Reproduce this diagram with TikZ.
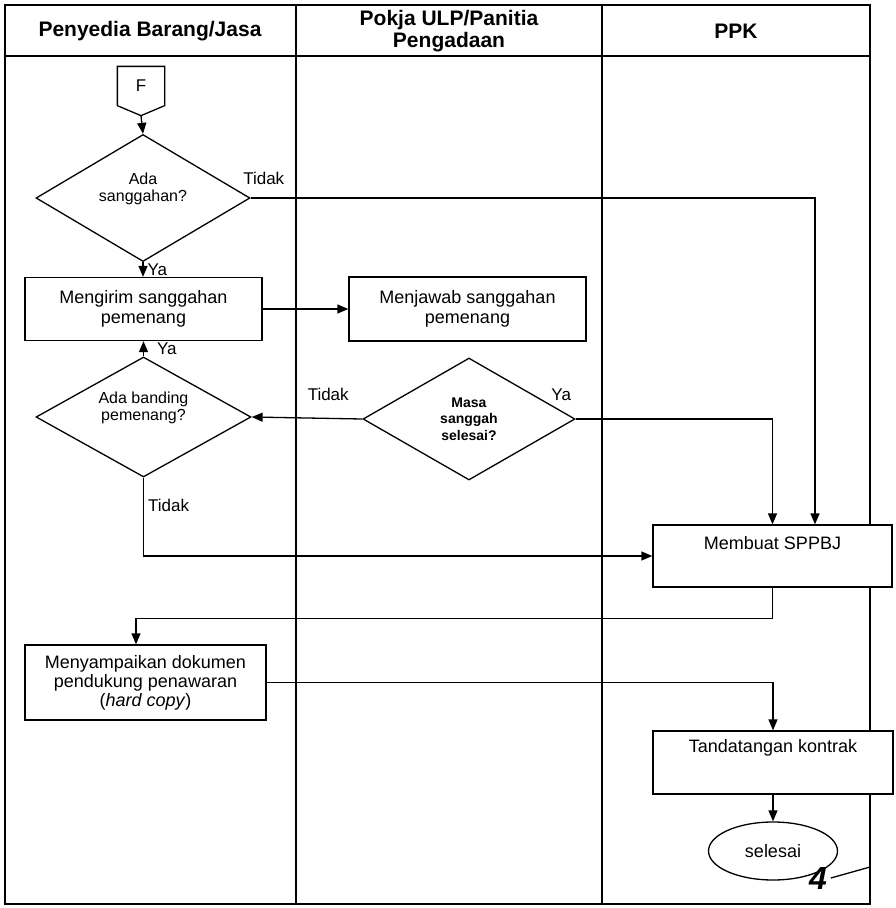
\documentclass[tikz,border=0pt]{standalone}
\usepackage{fontspec}
\setmainfont{Liberation Sans}
\usetikzlibrary{shapes,arrows,positioning,calc,arrows.meta}

\begin{document}
\begin{tikzpicture}[
    x=1pt, y=-1pt,
    line width=1.3pt,
    box/.style={rectangle, draw, fill=white, minimum width=237pt, minimum height=63pt, inner sep=0pt, align=center, font=\fontsize{18}{20}\selectfont},
    dec/.style={diamond, draw, fill=white, aspect=1.7, inner sep=0pt, align=center, font=\fontsize{16}{16.5}\selectfont},
    lbl/.style={font=\fontsize{17}{19}\selectfont, inner sep=1pt},
    hdr/.style={font=\fontsize{21}{22}\bfseries\selectfont, align=center},
    flow/.style={-{Triangle[length=11pt,width=9pt]}}
]
    \useasboundingbox (0,0) rectangle (896,908);

    % Lanes
    \draw (5,5) rectangle (870,904);
    \draw (5,56) -- (870,56);
    \draw (296,5) -- (296,904);
    \draw (602,5) -- (602,904);
    \node[hdr] (hdA) at (150,31) {Penyedia Barang/Jasa};
    \node[hdr] (hdB) at (449,31) {Pokja ULP/Panitia\\Pengadaan};
    \node[hdr] (hdC) at (736,31) {PPK};

    % Penyedia
    \node[font=\fontsize{17}{19}\selectfont, minimum width=46pt, minimum height=38pt] (F) at (141,86) {F};
    \draw (F.north west) -- (F.north east) -- (F.south east) -- ($(F.south)+(0,-10pt)$) coordinate (Ftip) -- (F.south west) -- cycle;
    \node[dec, minimum width=214pt, minimum height=127pt, text depth=22pt] (d1) at (143,198) {Ada\\sanggahan?};
    \node[box] (kirim) at (143.5,309) {Mengirim sanggahan\\pemenang};
    \node[dec, minimum width=215pt, minimum height=120pt, text depth=22pt] (d2) at (143.5,417) {Ada banding\\pemenang?};
    \node[box, minimum width=241pt, minimum height=75pt, font=\fontsize{18}{19}\selectfont] (dok) at (145.5,682.5) {Menyampaikan dokumen\\pendukung penawaran\\(\textit{hard copy})};

    % Pokja
    \node[box, minimum height=64pt] (jawab) at (467.5,309) {Menjawab sanggahan\\pemenang};
    \node[dec, minimum width=212pt, minimum height=122pt, font=\fontsize{14}{16.5}\bfseries\selectfont] (d3) at (469,419) {Masa\\sanggah\\selesai?};

    % PPK
    \node[box, minimum width=239pt, minimum height=62pt, text depth=26pt] (sppbj) at (772.5,556) {Membuat SPPBJ};
    \node[box, minimum width=240pt, minimum height=63pt, text depth=33pt] (ttd) at (773,762.5) {Tandatangan kontrak};
    \node[ellipse, draw, fill=white, minimum width=129pt, minimum height=58pt, font=\fontsize{18}{20}\selectfont] (end) at (773,851) {selesai};
    \node[font=\fontsize{32}{32}\bfseries\itshape\selectfont] (pg) at (818,878) {4};
    \draw (pg.east) -- (870,867);

    % Connectors
    \draw[flow] (Ftip) -- (d1.north);
    \draw[flow] (d1.south) -- (d1.south |- kirim.north) node[lbl, pos=1, anchor=south west, xshift=3pt] {Ya};
    \draw[flow] (d1.east) -| ([xshift=42.5pt]sppbj.north) node[lbl, pos=0, anchor=south west, xshift=-9pt, yshift=12pt] {Tidak};
    \draw[flow] (kirim.east) -- (jawab.west);
    \draw[flow] (d2.north) -- (kirim.south) node[lbl, pos=0, anchor=south west, xshift=12pt] {Ya};
    \draw[flow] (d3.west) -- (d2.east) node[lbl, pos=0, anchor=south east, xshift=-12pt, yshift=17pt] {Tidak};
    \draw[flow] (d3.east) -| (sppbj.north) node[lbl, pos=0, anchor=south east, xshift=-3pt, yshift=17pt] {Ya};
    \draw[flow] (d2.south) |- (sppbj.west) node[lbl, pos=0, anchor=north west, xshift=3pt, yshift=-20pt] {Tidak};
    \draw[flow] (sppbj.south) -- ++(0,31) -| ([xshift=-9.5pt]dok.north);
    \draw[flow] (dok.east) -| (ttd.north);
    \draw[flow] (ttd.south) -- (end.north);
\end{tikzpicture}
\end{document}
